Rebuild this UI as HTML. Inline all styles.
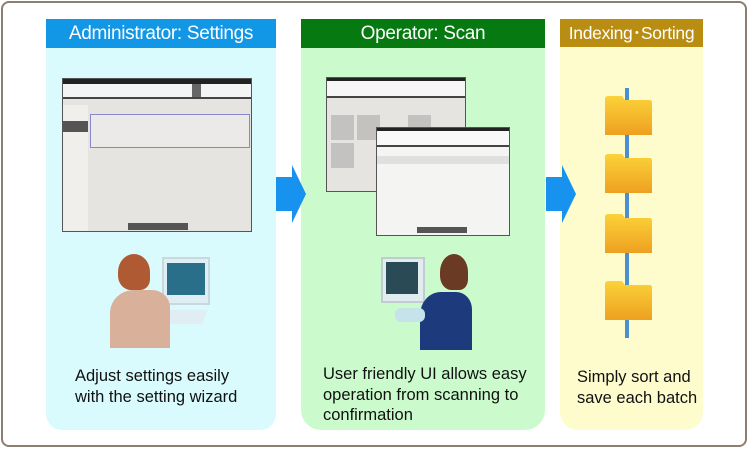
<!DOCTYPE html>
<html><head><meta charset="utf-8"><style>
*{margin:0;padding:0;box-sizing:border-box}
body{width:749px;height:449px;background:#fff;position:relative;overflow:hidden;font-family:"Liberation Sans",sans-serif}
.a{position:absolute}
.frame{left:1px;top:1px;width:746px;height:446px;border:2px solid #8c7e70;border-radius:8px}
.hd{color:#fff;font-size:19px;text-align:center;line-height:29px;letter-spacing:-0.3px}
.tx{font-size:16.5px;line-height:20.5px;color:#111}
.win{background:#e6e4e0;border:1px solid #555}
</style></head><body>
<div class="a frame"></div>

<!-- panel 1 -->
<div class="a" style="left:46px;top:48px;width:230px;height:382px;background:#d9fbfd;border-radius:0 0 16px 16px"></div>
<div class="a hd" style="left:46px;top:19px;width:230px;height:29px;background:#1297e6">Administrator: Settings</div>
<div class="a win" style="left:62px;top:78px;width:190px;height:154px">
 <div class="a" style="left:0;top:0;width:188px;height:5px;background:#222"></div>
 <div class="a" style="left:0;top:5px;width:188px;height:13px;background:#f4f4f4"></div>
 <div class="a" style="left:129px;top:5px;width:9px;height:13px;background:#666"></div>
 <div class="a" style="left:0;top:18px;width:188px;height:2px;background:#444"></div>
 <div class="a" style="left:0;top:26px;width:25px;height:126px;background:#f0efec"></div>
 <div class="a" style="left:0;top:42px;width:25px;height:11px;background:#555"></div>
 <div class="a" style="left:27px;top:35px;width:160px;height:34px;border:1px solid #8888cc;background:#eceae8"></div>
 <div class="a" style="left:65px;top:144px;width:60px;height:7px;background:#555"></div>
</div>
<!-- person 1 -->
<div class="a" style="left:162px;top:257px;width:48px;height:48px;background:#dfeef3;border:2px solid #c8d8e0"></div>
<div class="a" style="left:167px;top:263px;width:38px;height:32px;background:#2a6f8a"></div>
<div class="a" style="left:157px;top:310px;width:48px;height:14px;background:#e0eef4;transform:skewX(-20deg)"></div>
<div class="a" style="left:118px;top:254px;width:32px;height:36px;background:#b05a34;border-radius:50% 50% 30% 40%"></div>
<div class="a" style="left:110px;top:290px;width:60px;height:58px;background:#d9b09a;border-radius:40% 30% 0 0"></div>
<div class="a tx" style="left:75px;top:366px">Adjust settings easily<br>with the setting wizard</div>

<!-- panel 2 -->
<div class="a" style="left:301px;top:47px;width:244px;height:383px;background:#cbfbcd;border-radius:0 0 20px 20px"></div>
<div class="a hd" style="left:301px;top:19px;width:244px;height:29px;background:#067a10">Operator: Scan</div>
<div class="a win" style="left:326px;top:77px;width:140px;height:115px">
 <div class="a" style="left:0;top:0;width:138px;height:3px;background:#222"></div>
 <div class="a" style="left:0;top:3px;width:138px;height:15px;background:#f6f6f6"></div>
 <div class="a" style="left:0;top:18px;width:138px;height:2px;background:#444"></div>
 <div class="a" style="left:4px;top:37px;width:23px;height:25px;background:#c4c2c0"></div>
 <div class="a" style="left:30px;top:37px;width:23px;height:25px;background:#c4c2c0"></div>
 <div class="a" style="left:81px;top:37px;width:23px;height:25px;background:#c4c2c0"></div>
 <div class="a" style="left:4px;top:65px;width:23px;height:25px;background:#c4c2c0"></div>
</div>
<div class="a win" style="left:376px;top:127px;width:134px;height:109px;background:#f4f4f2">
 <div class="a" style="left:0;top:0;width:132px;height:3px;background:#222"></div>
 <div class="a" style="left:0;top:3px;width:132px;height:14px;background:#f8f8f8"></div>
 <div class="a" style="left:0;top:17px;width:132px;height:2px;background:#444"></div>
 <div class="a" style="left:0;top:28px;width:132px;height:8px;background:#e0e0e0"></div>
 <div class="a" style="left:40px;top:99px;width:50px;height:6px;background:#555"></div>
</div>
<!-- person 2 -->
<div class="a" style="left:381px;top:257px;width:44px;height:46px;background:#e0ecef;border:2px solid #c0ccd0"></div>
<div class="a" style="left:386px;top:262px;width:32px;height:32px;background:#2a4a55"></div>
<div class="a" style="left:440px;top:254px;width:28px;height:36px;background:#6b3a24;border-radius:50% 50% 30% 40%"></div>
<div class="a" style="left:420px;top:292px;width:52px;height:58px;background:#1d3b7c;border-radius:40% 30% 0 0"></div>
<div class="a" style="left:395px;top:308px;width:30px;height:14px;background:#c6e2ea;border-radius:6px"></div>
<div class="a tx" style="left:323px;top:364px">User friendly UI allows easy<br>operation from scanning to<br>confirmation</div>

<!-- panel 3 -->
<div class="a" style="left:560px;top:47px;width:143px;height:383px;background:#fefccd;border-radius:0 0 18px 18px"></div>
<div class="a hd" style="left:560px;top:19px;width:143px;height:28px;background:#b98c12;font-size:17.5px">Indexing･Sorting</div>
<div class="a" style="left:625px;top:88px;width:4px;height:250px;background:#4a90d0"></div>
<svg class="a" style="left:604px;top:95px" width="50" height="232">
<defs><linearGradient id="g" x1="0" y1="0" x2="0" y2="1"><stop offset="0" stop-color="#fbd33a"/><stop offset="1" stop-color="#eea020"/></linearGradient></defs>
<g id="f"><path d="M1 4 Q1 1 4 1 L18 1 L21 5 L46 5 Q48 5 48 8 L48 40 L1 40 Z" fill="url(#g)"/></g>
<use href="#f" y="58"/><use href="#f" y="118"/><use href="#f" y="185"/>
</svg>
<div class="a tx" style="left:577px;top:367px">Simply sort and<br>save each batch</div>

<!-- arrows on top -->
<svg class="a" style="left:276px;top:165px" width="32" height="58"><polygon points="0,12 16,12 16,0 30,29 16,58 16,46 0,46" fill="#1793ef"/></svg>
<svg class="a" style="left:546px;top:165px" width="32" height="58"><polygon points="0,12 16,12 16,0 30,29 16,58 16,46 0,46" fill="#1793ef"/></svg>
</body></html>
